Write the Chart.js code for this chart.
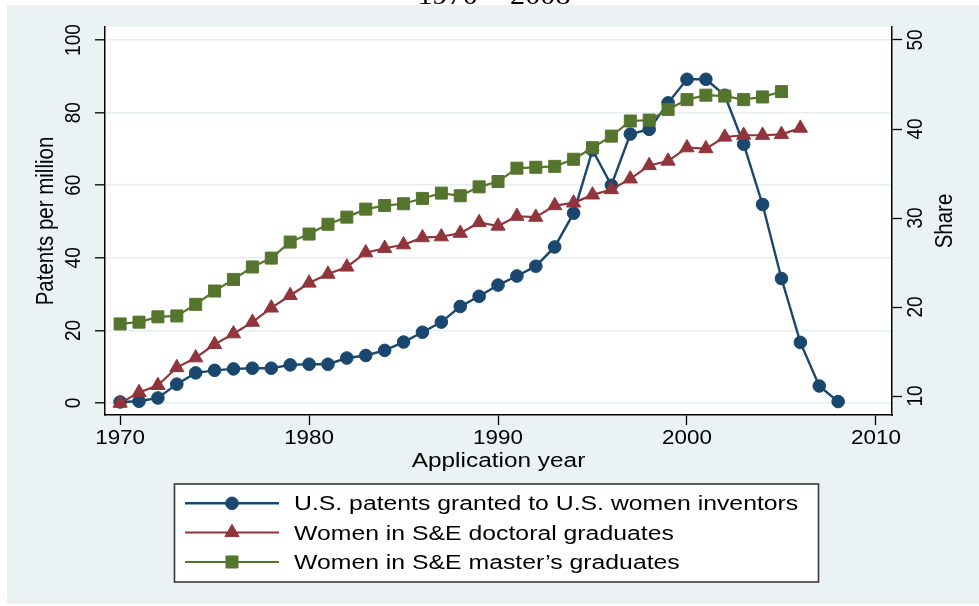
<!DOCTYPE html>
<html>
<head>
<meta charset="utf-8">
<script src="https://cdn.jsdelivr.net/npm/chart.js@4.4.1/dist/chart.umd.min.js"></script>
<style>
  html, body { margin: 0; padding: 0; background: #fff; }
  #wrap { width: 979px; height: 606px; }
</style>
</head>
<body>
<div id="wrap"><canvas id="chart" width="979" height="606"></canvas></div>
<script>
// Años de solicitud
const years = [1970, 1971, 1972, 1973, 1974, 1975, 1976, 1977, 1978, 1979,
               1980, 1981, 1982, 1983, 1984, 1985, 1986, 1987, 1988, 1989,
               1990, 1991, 1992, 1993, 1994, 1995, 1996, 1997, 1998, 1999,
               2000, 2001, 2002, 2003, 2004, 2005, 2006, 2007, 2008];

// Patentes por millón (eje izquierdo)
const patents = [0.3, 0.5, 1.4, 5.2, 8.3, 9.0, 9.4, 9.6, 9.6, 10.5,
                 10.7, 10.7, 12.4, 13.1, 14.5, 16.8, 19.5, 22.3, 26.6, 29.4,
                 32.5, 35.0, 37.7, 43.0, 52.3, 69.7, 60.0, 74.1, 75.4, 82.7,
                 89.2, 89.2, 84.8, 71.3, 54.7, 34.3, 16.7, 4.7, 0.4];

// Participación (%) de mujeres en doctorados y maestrías S&E (eje derecho)
const doctoral = [9.2, 10.4, 11.2, 13.2, 14.3, 15.8, 17.0, 18.3, 19.9, 21.3,
                  22.7, 23.7, 24.5, 26.1, 26.6, 27.0, 27.8, 27.9, 28.3, 29.5,
                  29.1, 30.2, 30.1, 31.4, 31.7, 32.6, 33.2, 34.4, 35.9, 36.4,
                  37.9, 37.8, 39.1, 39.3, 39.3, 39.4, 40.1];
const masters = [18.1, 18.3, 18.9, 19.0, 20.3, 21.8, 23.1, 24.5, 25.5, 27.3,
                 28.2, 29.3, 30.1, 31.0, 31.4, 31.6, 32.2, 32.8, 32.5, 33.5,
                 34.1, 35.6, 35.7, 35.8, 36.6, 37.9, 39.2, 40.9, 41.0, 42.2,
                 43.3, 43.8, 43.7, 43.3, 43.6, 44.2];

const seriesNames = ['U.S. patents granted to U.S. women inventors',
                     'Women in S&E doctoral graduates',
                     'Women in S&E master\u2019s graduates'];

const xTicks = [1970, 1980, 1990, 2000, 2010];
const leftTicks = [0, 20, 40, 60, 80, 100];
const rightTicks = [10, 20, 30, 40, 50];

const NAVY = '#1a476f', MAROON = '#90353b', GREEN = '#55752f';
const BG = '#eaf2f3';
const SANS = '"Liberation Sans", Arial, sans-serif';

function pts(vals) {
    return vals.map((v, i) => ({ x: years[i], y: v }));
}

// texto con estiramiento horizontal (la imagen original está ensanchada)
function drawText(ctx, s, x, y, size, opts) {
    opts = opts || {};
    ctx.save();
    ctx.translate(x, y);
    ctx.scale(opts.sx || 1.12, 1);
    if (opts.rot) ctx.rotate(opts.rot);
    ctx.font = (opts.font || (size + 'px ' + SANS));
    ctx.fillStyle = '#000';
    ctx.textAlign = opts.align || 'center';
    ctx.textBaseline = 'alphabetic';
    ctx.fillText(s, 0, 0);
    ctx.restore();
}

const backdrop = {
    id: 'backdrop',
    beforeDraw(chart) {
        const { ctx, chartArea: a } = chart;
        ctx.save();
        ctx.fillStyle = '#fff';
        ctx.fillRect(0, 0, chart.width, chart.height);
        ctx.fillStyle = BG;
        ctx.fillRect(7, 5, chart.width - 7, chart.height - 7);
        ctx.fillStyle = '#fff';
        ctx.fillRect(a.left, a.top, a.right - a.left, a.bottom - a.top);
        ctx.restore();
        // título cortado arriba
        drawText(ctx, '1970 \u2212 2008', 494, 3.5, 27, { font: '27px "Liberation Serif", serif', sx: 1.12 });
    }
};

const labels = {
    id: 'labels',
    afterDraw(chart) {
        const ctx = chart.ctx;
        const sx = chart.scales.x, yl = chart.scales.y, yr = chart.scales.y2;
        const a = chart.chartArea;

        xTicks.forEach(v => drawText(ctx, String(v), sx.getPixelForValue(v), 444, 20));
        leftTicks.forEach(v => drawText(ctx, String(v), 80, yl.getPixelForValue(v), 19, { rot: -Math.PI / 2 }));
        rightTicks.forEach(v => drawText(ctx, String(v), 921.5, yr.getPixelForValue(v), 19, { rot: -Math.PI / 2 }));

        const midY = (a.top + a.bottom) / 2;
        drawText(ctx, 'Application year', (a.left + a.right) / 2, 467, 20, { sx: 1.22 });
        drawText(ctx, 'Patents per million', 53, midY, 20.5, { rot: -Math.PI / 2, sx: 1.2 });
        drawText(ctx, 'Share', 951.5, midY, 20.5, { rot: -Math.PI / 2, sx: 1.2 });

        // leyenda
        ctx.save();
        ctx.fillStyle = '#fff';
        ctx.fillRect(174.5, 484, 644, 98);
        ctx.strokeStyle = '#3a3a3a';
        ctx.lineWidth = 1.6;
        ctx.strokeRect(174.5, 484, 644, 98);
        ctx.restore();

        const rows = [503.3, 532.5, 562];
        chart.data.datasets.forEach((ds, i) => {
            const y = rows[i];
            ctx.save();
            ctx.strokeStyle = ds.borderColor;
            ctx.lineWidth = ds.borderWidth;
            ctx.beginPath();
            ctx.moveTo(185, y);
            ctx.lineTo(279, y);
            ctx.stroke();
            ctx.fillStyle = ds.pointBackgroundColor;
            ctx.strokeStyle = ds.pointBorderColor;
            ctx.lineWidth = 1;
            Chart.helpers.drawPoint(ctx, {
                pointStyle: ds.pointStyle,
                radius: ds.pointRadius,
                rotation: 0,
                borderWidth: 1
            }, 232, y);
            ctx.restore();
            drawText(ctx, seriesNames[i], 294, y + 7, 19.6, { align: 'left', sx: 1.265 });
        });
    }
};

function fixTicks(list) {
    return function(scale) {
        scale.ticks = list.map(v => ({ value: v }));
    };
}

new Chart(document.getElementById('chart'), {
    type: 'line',
    data: {
        datasets: [
            {
                label: seriesNames[0],
                data: pts(patents),
                yAxisID: 'y',
                borderColor: NAVY,
                borderWidth: 2.4,
                pointStyle: 'circle',
                pointRadius: 6.3,
                pointBackgroundColor: NAVY,
                pointBorderColor: NAVY,
                pointBorderWidth: 1,
                order: 2
            },
            {
                label: seriesNames[1],
                data: pts(doctoral),
                yAxisID: 'y2',
                borderColor: MAROON,
                borderWidth: 2.2,
                pointStyle: 'triangle',
                pointRadius: 8.2,
                pointBackgroundColor: MAROON,
                pointBorderColor: MAROON,
                pointBorderWidth: 1,
                order: 1
            },
            {
                label: seriesNames[2],
                data: pts(masters),
                yAxisID: 'y2',
                borderColor: GREEN,
                borderWidth: 2.2,
                pointStyle: 'rect',
                pointRadius: 8.5,
                pointBackgroundColor: GREEN,
                pointBorderColor: GREEN,
                pointBorderWidth: 1,
                order: 0
            }
        ]
    },
    options: {
        responsive: false,
        animation: false,
        devicePixelRatio: 1,
        layout: {
            autoPadding: false,
            padding: { left: 95, right: 77, top: 27, bottom: 181 }
        },
        plugins: {
            legend: { display: false },
            tooltip: { enabled: false },
            title: { display: false }
        },
        elements: { line: { tension: 0 } },
        scales: {
            x: {
                type: 'linear',
                min: 1969.2,
                max: 2010.85,
                afterBuildTicks: fixTicks(xTicks),
                afterFit(s) { s.height = 10; },
                ticks: { display: false },
                grid: { drawOnChartArea: false, drawTicks: true, tickLength: 10, tickColor: '#000', tickWidth: 1.3 },
                border: { display: true, color: '#000', width: 1.5 }
            },
            y: {
                type: 'linear',
                position: 'left',
                min: -3.3,
                max: 103.6,
                afterBuildTicks: fixTicks(leftTicks),
                afterFit(s) { s.width = 10; },
                ticks: { display: false },
                grid: { color: '#e6eef1', lineWidth: 1.6, tickLength: 10, tickColor: '#000', tickWidth: 1.3 },
                border: { display: true, color: '#000', width: 1.5 }
            },
            y2: {
                type: 'linear',
                position: 'right',
                min: 7.87,
                max: 51.46,
                afterBuildTicks: fixTicks(rightTicks),
                afterFit(s) { s.width = 10; },
                ticks: { display: false },
                grid: { drawOnChartArea: false, tickLength: 10, tickColor: '#000', tickWidth: 1.3 },
                border: { display: true, color: '#000', width: 1.5 }
            }
        }
    },
    plugins: [backdrop, labels]
});
</script>
</body>
</html>
